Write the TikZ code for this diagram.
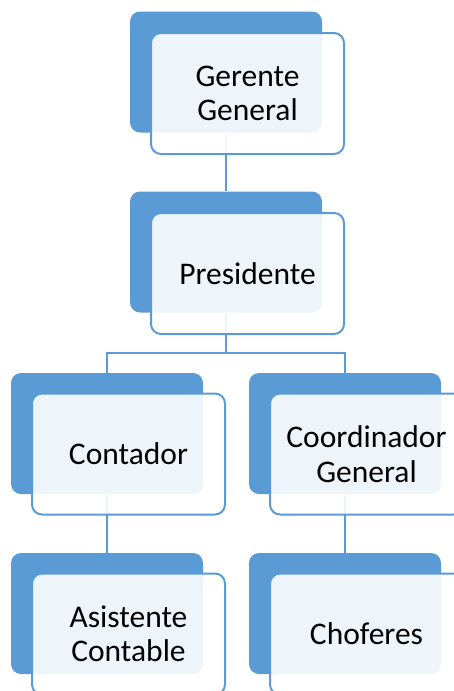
\documentclass[tikz,border=0pt]{standalone}
\usepackage{fontspec}
\setmainfont{Carlito}
\definecolor{obl}{HTML}{5B9BD5}
\begin{document}
\begin{tikzpicture}[x=1pt,y=-1pt,
  back/.style={fill=obl,draw=none,rounded corners=10pt,inner sep=0pt,minimum width=192pt,minimum height=121pt},
  front/.style={draw=obl,line width=2pt,fill=white,fill opacity=0.9,text opacity=1,rounded corners=10pt,inner sep=0pt,minimum width=193pt,minimum height=121pt,align=center,font=\fontsize{31.5}{34.5}\selectfont},
  conn/.style={draw=obl,line width=2pt}]
\useasboundingbox (0,0) rectangle (454,691);
\clip (0,0) rectangle (454,691);
% back boxes
\node[back] (gb) at (226,72) {};
\node[back] (pb) at (226,252) {};
\node[back] (cb) at (107,433.5) {};
\node[back] (kb) at (345,433.5) {};
\node[back] (ab) at (107,613.5) {};
\node[back] (hb) at (345,613.5) {};
% connectors
\coordinate (bus) at (226,353);
\draw[conn] (gb.south) -- (pb.north);
\draw[conn] (pb.south) -- (bus);
\draw[conn] (cb.north) |- (bus) -| (kb.north);
\draw[conn] (cb.south) -- (ab.north);
\draw[conn] (kb.south) -- (hb.north);
% front boxes
\node[front] (gf) at (247.5,93.5) {Gerente\\General};
\node[front] (pf) at (247.5,273.5) {Presidente};
\node[front] (cf) at (128.5,454) {Contador};
\node[front] (kf) at (366.5,454) {Coordinador\\General};
\node[front] (af) at (128.5,634) {Asistente\\Contable};
\node[front] (hf) at (366.5,634) {Choferes};
\end{tikzpicture}
\end{document}
